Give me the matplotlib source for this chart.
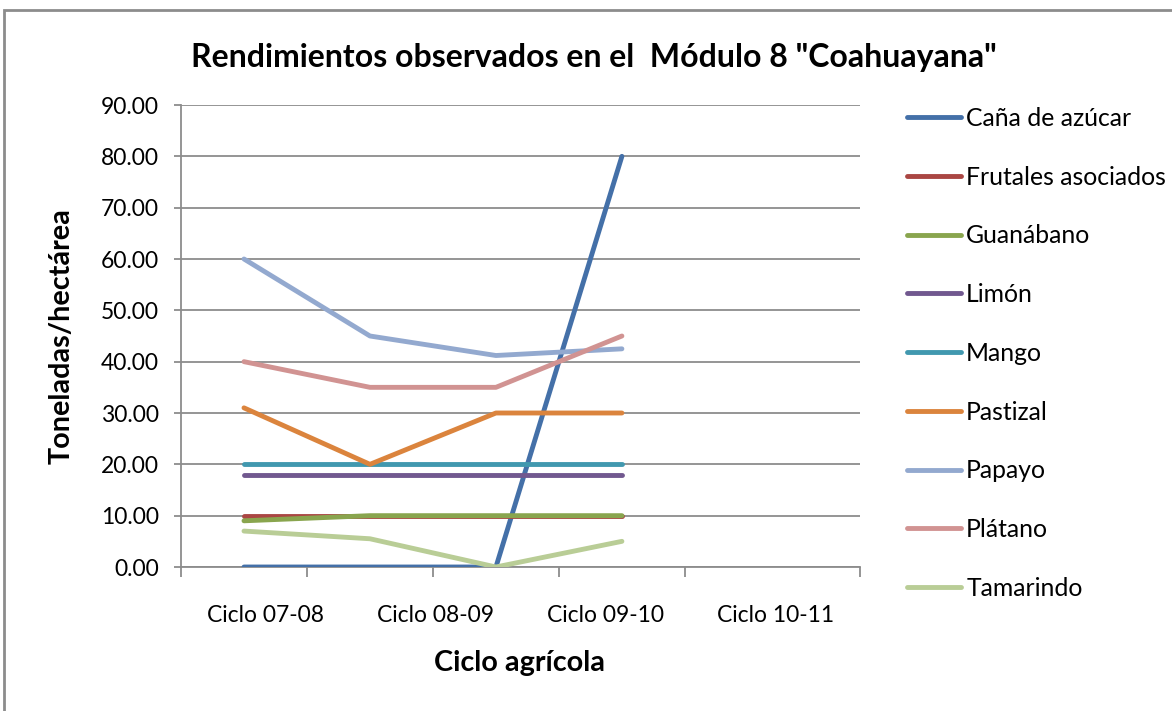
import matplotlib
matplotlib.use("Agg")
import matplotlib.pyplot as plt
import numpy as np
from matplotlib.patches import Rectangle
from matplotlib.lines import Line2D

categories = ["Ciclo 07-08", "Ciclo 08-09", "Ciclo 09-10", "Ciclo 10-11"]
series_names = ["Caña de azúcar", "Frutales asociados", "Guanábano", "Limón",
                "Mango", "Pastizal", "Papayo", "Plátano", "Tamarindo"]
cana = [0, 0, 0, 80]
frutales = [10, 10, 10, 10]
guanabano = [9, 10, 10, 10]
limon = [18, 18, 18, 18]
mango = [20, 20, 20, 20]
pastizal = [31, 20, 30, 30]
papayo = [60, 45, 41.2, 42.5]
platano = [40, 35, 35, 45]
tamarindo = [7, 5.5, 0, 5]
values = [cana, frutales, guanabano, limon, mango, pastizal, papayo, platano, tamarindo]
colors = ["#4470A8", "#AA4643", "#89A54E", "#71588F", "#4198AF",
          "#DB843D", "#93A9CF", "#D19392", "#B9CD96"]
yticks = np.arange(0, 91, 10)

plt.rcParams['font.family'] = ['Lato', 'DejaVu Sans']

W, H = 1172, 711
fig = plt.figure(figsize=(W / 100, H / 100), dpi=100)

# chart border
fig.patches.append(Rectangle((4 / W, -0.1), 1.2, 1 - 10 / H + 0.1, transform=fig.transFigure,
                             fill=False, edgecolor="#8C8C8C", linewidth=2.0))

ax = fig.add_axes([181 / W, 1 - 567 / H, (860 - 181) / W, (567 - 105) / H])
x = np.arange(len(categories))
for name, vals, c in zip(series_names, values, colors):
    ax.plot(x, vals, color=c, linewidth=3.5, solid_capstyle='round',
            solid_joinstyle='round', label=name, zorder=3)

xmin, xmax = -0.5, 4.89
ax.set_xlim(xmin, xmax)
ax.set_ylim(0, 90)
ax.set_yticks(yticks)
ax.set_yticklabels([f"{v:.2f}" for v in yticks], fontsize=16.5)
ax.yaxis.grid(True, color="#8C8C8C", linewidth=1.3, zorder=0)
ax.set_axisbelow(True)

major = list(np.arange(-0.5, 4, 1.0)) + [xmax]
ax.set_xticks(major)
ax.set_xticklabels([""] * len(major))
bounds = np.linspace(xmin, xmax, len(categories) + 1)
centers = (bounds[:-1] + bounds[1:]) / 2
ax.set_xticks(centers, minor=True)
ax.set_xticklabels(categories, minor=True, fontsize=16.5)
ax.tick_params(axis='x', which='minor', length=0, pad=27)
ax.tick_params(axis='x', which='major', length=7, width=1.3, color="#8C8C8C", direction='out')
ax.tick_params(axis='y', length=5, width=1.3, color="#8C8C8C", pad=11)

for s in ['top', 'right']:
    ax.spines[s].set_visible(False)
for s in ['left', 'bottom']:
    ax.spines[s].set_color("#8C8C8C")
    ax.spines[s].set_linewidth(1.3)

fig.text(594 / W, 1 - 57 / H, 'Rendimientos observados en el  Módulo 8 "Coahuayana"',
         ha='center', va='center', fontsize=23, fontweight='bold')
fig.text(62 / W, 1 - 336 / H, 'Toneladas/hectárea', rotation=90,
         ha='center', va='center', fontsize=20.7, fontweight='bold')
fig.text(520 / W, 1 - 663 / H, 'Ciclo agrícola', ha='center', va='center',
         fontsize=20.7, fontweight='bold')

handles = [Line2D([0], [0], color=c, linewidth=3.5, solid_capstyle='round') for c in colors]
fig.legend(handles, series_names, loc='upper left', bbox_to_anchor=(897 / W, 1 - 97 / H),
           frameon=False, fontsize=17.8, handlelength=2.2, handletextpad=0.2,
           labelspacing=1.445, borderaxespad=0)

fig.savefig("out.png", dpi=100)
